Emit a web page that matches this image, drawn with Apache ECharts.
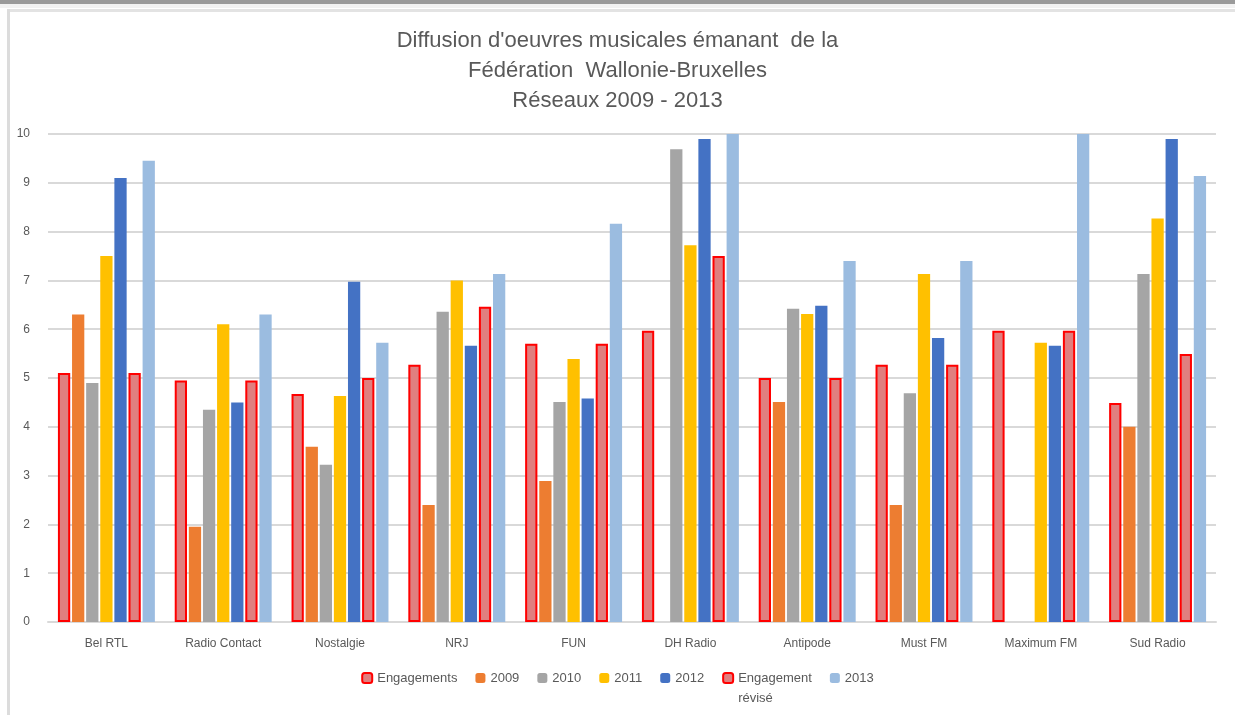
<!DOCTYPE html>
<html>
<head>
<meta charset="utf-8">
<script src="https://cdn.jsdelivr.net/npm/echarts@6/dist/echarts.min.js"></script>
<style>
  html, body { margin: 0; padding: 0; background: #ffffff; }
  #chart { width: 1235px; height: 715px; }
</style>
</head>
<body>
<div id="chart"></div>
<script>
// ============================================================================
// Data
// ============================================================================

const stations = ['Bel RTL', 'Radio Contact', 'Nostalgie', 'NRJ', 'FUN', 'DH Radio', 'Antipode', 'Must FM', 'Maximum FM', 'Sud Radio']
const engagements = [5.1, 4.95, 4.67, 5.27, 5.7, 5.97, 5.0, 5.27, 5.97, 4.49]
const y2009 = [6.3, 1.95, 3.59, 2.4, 2.89, null, 4.51, 2.4, null, 4.0]
const y2010 = [4.9, 4.35, 3.22, 6.36, 4.51, 9.69, 6.42, 4.69, null, 7.13]
const y2011 = [7.5, 6.1, 4.63, 7.0, 5.39, 7.72, 6.31, 7.13, 5.72, 8.27]
const y2012 = [9.1, 4.5, 6.97, 5.66, 4.58, 9.9, 6.48, 5.82, 5.66, 9.9]
const engagementRevise = [5.1, 4.95, 5.0, 6.46, 5.7, 7.5, 5.0, 5.27, 5.97, 5.49]
const y2013 = [9.45, 6.3, 5.72, 7.13, 8.16, 10, 7.4, 7.4, 10, 9.14]

// ============================================================================
// Styles
// ============================================================================

const _textColor = '#595959'
const _font = 'Liberation Sans'

function _bar(name, data, color, outlined) {
    return {
        name: name,
        type: 'bar',
        data: data,
        barGap: '15%',
        barCategoryGap: '17%',
        itemStyle: outlined
            ? {color: '#E07F7F', borderColor: '#FF0000', borderWidth: 2}
            : {color: color}
    }
}

// ============================================================================
// Chart
// ============================================================================

const chart = echarts.init(document.getElementById('chart'))
chart.setOption({
    animation: false,
    backgroundColor: '#ffffff',
    color: ['#E07F7F', '#ED7D31', '#A5A5A5', '#FFC000', '#4472C4', '#E07F7F', '#9BBCE0'],
    graphic: [
        {type: 'rect', shape: {x: 0, y: 0, width: 1235, height: 4}, style: {fill: '#9a9a9a'}},
        {type: 'rect', shape: {x: 0, y: 4, width: 1235, height: 4}, style: {fill: '#f2f2f2'}},
        {type: 'rect', shape: {x: 8, y: 9, width: 1235, height: 3}, style: {fill: '#e3e3e3'}},
        {type: 'rect', shape: {x: 7, y: 9, width: 3, height: 706}, style: {fill: '#dcdcdc'}}
    ],
    title: {
        text: "Diffusion d'oeuvres musicales émanant  de la\nFédération  Wallonie-Bruxelles\nRéseaux 2009 - 2013",
        left: 'center',
        top: 21,
        textStyle: {
            color: _textColor,
            fontFamily: _font,
            fontWeight: 'normal',
            fontSize: 22,
            lineHeight: 30
        }
    },
    legend: {
        top: 643,
        left: 'center',
        itemWidth: 10,
        itemHeight: 10,
        itemGap: 18,
        textStyle: {color: _textColor, fontFamily: _font, fontSize: 13, lineHeight: 20},
        // keep the two-line item's first line level with its icon
        formatter: name => name === 'Engagement révisé' ? ' \nEngagement\nrévisé' : name,
        data: ['Engagements', '2009', '2010', '2011', '2012', 'Engagement révisé', '2013']
    },
    grid: {left: 48, right: 19, top: 134, bottom: 93},
    xAxis: {
        type: 'category',
        data: stations,
        axisLine: {lineStyle: {color: '#d9d9d9', width: 2}},
        axisTick: {show: false},
        axisLabel: {color: _textColor, fontFamily: _font, fontSize: 12, margin: 16}
    },
    yAxis: {
        type: 'value',
        min: 0,
        max: 10,
        interval: 1,
        axisLine: {show: false},
        axisTick: {show: false},
        axisLabel: {color: _textColor, fontFamily: _font, fontSize: 12, margin: 18},
        splitLine: {lineStyle: {color: '#d9d9d9', width: 2}}
    },
    series: [
        _bar('Engagements', engagements, null, true),
        _bar('2009', y2009, '#ED7D31'),
        _bar('2010', y2010, '#A5A5A5'),
        _bar('2011', y2011, '#FFC000'),
        _bar('2012', y2012, '#4472C4'),
        _bar('Engagement révisé', engagementRevise, null, true),
        _bar('2013', y2013, '#9BBCE0')
    ]
})
</script>
</body>
</html>
